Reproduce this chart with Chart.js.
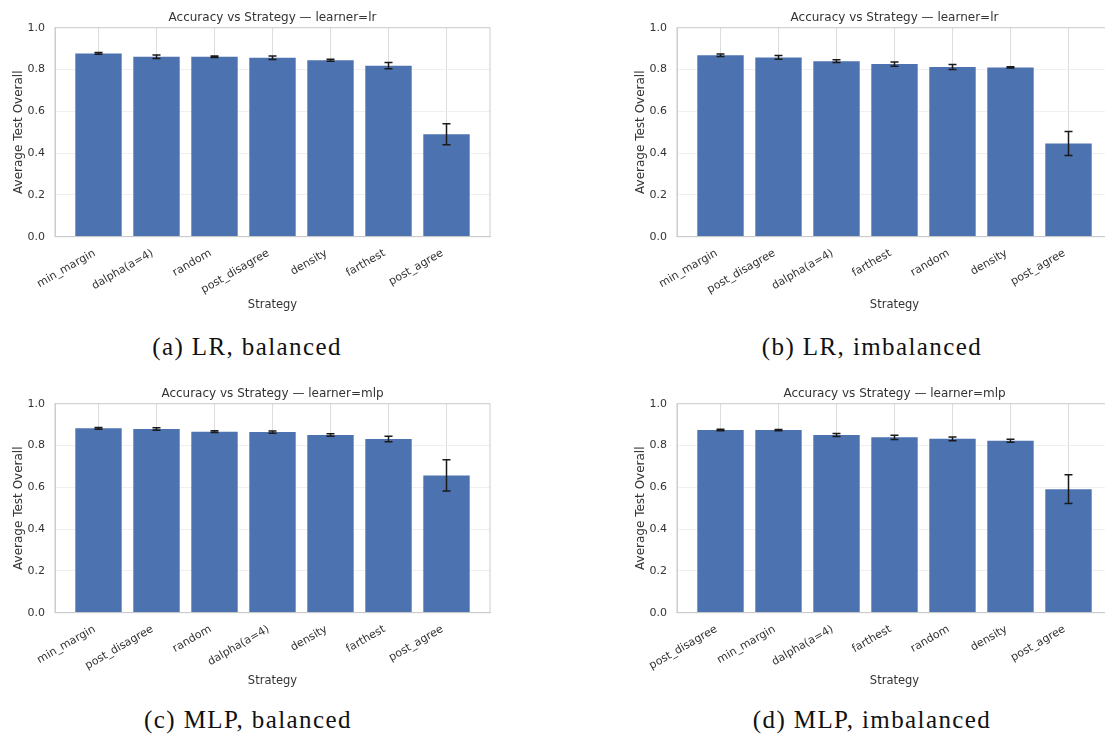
<!DOCTYPE html>
<html>
<head>
<meta charset="utf-8">
<script src="https://cdn.jsdelivr.net/npm/chart.js@4.4.1/dist/chart.umd.min.js"></script>
<style>
  html, body { margin: 0; padding: 0; background: #fff; }
  body { width: 1105px; height: 737px; overflow: hidden; position: relative; }
  .panel { position: absolute; width: 500px; height: 320px; }
  .caption {
    position: absolute; width: 400px; text-align: center;
    font-family: "Liberation Serif", "DejaVu Serif", serif;
    font-size: 25px; line-height: 25px; letter-spacing: 1.4px; color: #111;
    white-space: nowrap;
  }
</style>
</head>
<body>
<div class="panel" style="left:0px;top:0px"><canvas id="lrBal" width="500" height="320"></canvas></div>
<div class="panel" style="left:622px;top:0px"><canvas id="lrImb" width="500" height="320"></canvas></div>
<div class="panel" style="left:0px;top:376px"><canvas id="mlpBal" width="500" height="320"></canvas></div>
<div class="panel" style="left:622px;top:376px"><canvas id="mlpImb" width="500" height="320"></canvas></div>

<div class="caption" style="left:47px;top:334px">(a) LR, balanced</div>
<div class="caption" style="left:672px;top:334px">(b) LR, imbalanced</div>
<div class="caption" style="left:48px;top:707px">(c) MLP, balanced</div>
<div class="caption" style="left:672px;top:707px">(d) MLP, imbalanced</div>

<script>
// Strategy order per panel (sorted by mean accuracy), means and std errors
const lrBalancedLabels = ['min_margin', 'dalpha(a=4)', 'random', 'post_disagree', 'density', 'farthest', 'post_agree'];
const lrBalancedMeans  = [0.877, 0.861, 0.861, 0.856, 0.844, 0.818, 0.490];
const lrBalancedErrs   = [0.004, 0.008, 0.003, 0.008, 0.005, 0.015, 0.050];

const lrImbalancedLabels = ['min_margin', 'post_disagree', 'dalpha(a=4)', 'farthest', 'random', 'density', 'post_agree'];
const lrImbalancedMeans  = [0.868, 0.858, 0.840, 0.826, 0.812, 0.810, 0.446];
const lrImbalancedErrs   = [0.006, 0.009, 0.007, 0.010, 0.012, 0.003, 0.057];

const mlpBalancedLabels = ['min_margin', 'post_disagree', 'random', 'dalpha(a=4)', 'density', 'farthest', 'post_agree'];
const mlpBalancedMeans  = [0.882, 0.879, 0.866, 0.864, 0.850, 0.831, 0.657];
const mlpBalancedErrs   = [0.004, 0.006, 0.004, 0.005, 0.006, 0.013, 0.075];

const mlpImbalancedLabels = ['post_disagree', 'min_margin', 'dalpha(a=4)', 'farthest', 'random', 'density', 'post_agree'];
const mlpImbalancedMeans  = [0.874, 0.874, 0.850, 0.839, 0.832, 0.823, 0.591];
const mlpImbalancedErrs   = [0.004, 0.003, 0.007, 0.010, 0.009, 0.007, 0.069];

const yTickValues = [0.0, 0.2, 0.4, 0.6, 0.8, 1.0];

Chart.defaults.font.family = '"DejaVu Sans", sans-serif';
Chart.defaults.color = '#333';

const BAR_COLOR = '#4C72B0';
const SPINE = '#cccccc';

// Draws the error whiskers with caps on top of each bar
const errorBarPlugin = {
  id: 'errorBars',
  afterDatasetsDraw(chart) {
    const ctx = chart.ctx;
    const y = chart.scales.y;
    chart.data.datasets.forEach((ds, di) => {
      const meta = chart.getDatasetMeta(di);
      if (!ds.errors) return;
      meta.data.forEach((bar, i) => {
        const v = ds.data[i].y;
        const e = ds.errors[i];
        const yTop = y.getPixelForValue(v + e);
        const yBot = y.getPixelForValue(v - e);
        ctx.save();
        ctx.strokeStyle = '#1a1a1a';
        ctx.lineWidth = 1.5;
        ctx.beginPath();
        ctx.moveTo(bar.x, yTop); ctx.lineTo(bar.x, yBot);
        ctx.moveTo(bar.x - 4, yTop); ctx.lineTo(bar.x + 4, yTop);
        ctx.moveTo(bar.x - 4, yBot); ctx.lineTo(bar.x + 4, yBot);
        ctx.stroke();
        ctx.restore();
      });
    });
  }
};

// Frame around the plotting area (all four spines)
const framePlugin = {
  id: 'frame',
  afterDraw(chart) {
    const {ctx, chartArea: a} = chart;
    ctx.save();
    ctx.strokeStyle = SPINE;
    ctx.lineWidth = 1;
    ctx.strokeRect(a.left, a.top, a.right - a.left, a.bottom - a.top);
    ctx.restore();
  }
};

function makeChart(id, learner, labels, means, errs) {
  const n = labels.length;
  return new Chart(document.getElementById(id), {
    type: 'bar',
    data: {
      datasets: [{
        data: means.map((v, i) => ({x: i, y: v})),
        errors: errs,
        backgroundColor: BAR_COLOR,
        borderWidth: 0,
        categoryPercentage: 1.0,
        barPercentage: 0.8
      }]
    },
    options: {
      responsive: false,
      devicePixelRatio: 1,
      animation: false,
      layout: { padding: { left: 0, right: 10, top: 0, bottom: 3.3 } },
      plugins: {
        legend: { display: false },
        tooltip: { enabled: false },
        title: {
          display: true,
          fullSize: false,
          text: 'Accuracy vs Strategy \u2014 learner=' + learner,
          font: { size: 12, weight: 'normal' },
          color: '#333',
          padding: { top: 10.5, bottom: 2.8 }
        }
      },
      scales: {
        x: {
          type: 'linear',
          offset: false,
          min: -0.75,
          max: n - 0.25,
          afterBuildTicks: (axis) => { axis.ticks = labels.map((_, i) => ({value: i})); },
          afterFit: (scale) => { scale.height = 80; },
          grid: { offset: false, color: '#d4d4d4', lineWidth: 0.8, drawTicks: false },
          border: { color: SPINE },
          ticks: {
            autoSkip: false,
            minRotation: 30,
            maxRotation: 30,
            padding: 10,
            labelOffset: -4,
            font: { size: 11 },
            color: '#333',
            callback: (value) => labels[value]
          },
          title: {
            display: true,
            text: 'Strategy',
            font: { size: 11.5 },
            color: '#333',
            padding: { top: 0, bottom: 5 }
          }
        },
        y: {
          min: 0,
          max: 1,
          afterBuildTicks: (axis) => { axis.ticks = yTickValues.map(v => ({value: v})); },
          afterFit: (scale) => { scale.width = 55; },
          grid: { color: '#ececec', lineWidth: 0.8, drawTicks: false },
          border: { color: SPINE },
          ticks: {
            padding: 10,
            font: { size: 11 },
            color: '#333',
            callback: (value) => Number(value).toFixed(1)
          },
          title: {
            display: true,
            text: 'Average Test Overall',
            font: { size: 12 },
            color: '#333',
            padding: { top: 11.8, bottom: 0 }
          }
        }
      }
    },
    plugins: [errorBarPlugin, framePlugin]
  });
}

makeChart('lrBal', 'lr', lrBalancedLabels, lrBalancedMeans, lrBalancedErrs);
makeChart('lrImb', 'lr', lrImbalancedLabels, lrImbalancedMeans, lrImbalancedErrs);
makeChart('mlpBal', 'mlp', mlpBalancedLabels, mlpBalancedMeans, mlpBalancedErrs);
makeChart('mlpImb', 'mlp', mlpImbalancedLabels, mlpImbalancedMeans, mlpImbalancedErrs);
</script>
</body>
</html>
